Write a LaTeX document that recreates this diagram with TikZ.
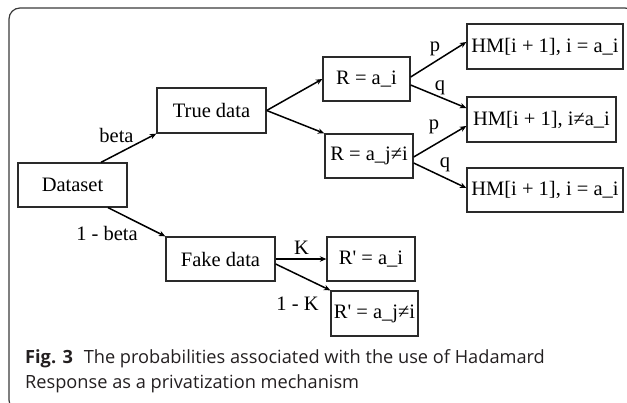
\documentclass[tikz,border=0pt]{standalone}
\usepackage{fontspec}
\setmainfont{Liberation Serif}[Ligatures=TeXOff]
\newfontfamily\capfont{Open Sans}
\usetikzlibrary{arrows.meta}
\definecolor{framegray}{HTML}{3A3A3A}
\definecolor{captext}{HTML}{231F20}
\definecolor{boxline}{HTML}{2A2A2A}
\tikzset{
  stagebox/.style={draw=boxline, line width=1.3pt, inner sep=0pt, align=center,
    font=\fontsize{20.5}{24}\selectfont},
  edgelabel/.style={inner sep=0pt, font=\fontsize{20.5}{24}\selectfont},
  flow/.style={-{Stealth[length=6.5pt,width=5.5pt]}, line width=1.5pt},
  captionline/.style={anchor=base west, inner sep=0pt, text=captext,
    font=\capfont\fontsize{18.2}{25}\selectfont}
}
\begin{document}
\begin{tikzpicture}[x=1pt,y=-1pt]
\useasboundingbox (0,0) rectangle (627,402);
\clip (0,0) rectangle (627,402);
% rounded outer frame
\draw[framegray, line width=1.2pt, rounded corners=11pt] (9,8) rectangle (636,411);

% boxes
\node[stagebox, minimum width=109pt, minimum height=44pt] (ds)  at (72.5,185)   {Dataset};
\node[stagebox, minimum width=109pt, minimum height=45pt] (td)  at (211.5,110.5) {True data};
\node[stagebox, minimum width=109pt, minimum height=44pt] (fk)  at (220.5,259)  {Fake data};
\node[stagebox, minimum width=87pt,  minimum height=44pt] (ra)  at (366.5,79)   {R = a\_i};
\node[stagebox, minimum width=88pt,  minimum height=44pt] (rb)  at (369,156)    {R = a\_j≠i};
\node[stagebox, minimum width=156pt, minimum height=45pt] (hm1) at (545,46.5)   {HM[i + 1], i = a\_i};
\node[stagebox, minimum width=149pt, minimum height=45pt] (hm2) at (541.5,119.5) {HM[i + 1], i≠a\_i};
\node[stagebox, minimum width=156pt, minimum height=44pt] (hm3) at (545,190)    {HM[i + 1], i = a\_i};
\node[stagebox, minimum width=88pt,  minimum height=44pt] (rp1) at (371,259)    {R' = a\_i};
\node[stagebox, minimum width=87pt,  minimum height=45pt] (rp2) at (374.5,313.5) {R' = a\_j≠i};

% connectors
\draw[flow] ([xshift=28.5pt]ds.north) -- (td.south west);
\draw[flow] ([xshift=35.5pt]ds.south) -- (fk.north west);
\draw[flow] (td.east) -- (ra.west);
\draw[flow] (td.east) -- (rb.north west);
\draw[flow] ([yshift=2pt]ra.east) -- ([yshift=4.5pt]hm1.west);
\draw[flow] ([yshift=-6pt]ra.east) -- ([yshift=11.5pt]hm2.west);
\draw[flow] ([yshift=-1pt]rb.east) -- ([yshift=-6.5pt]hm2.west);
\draw[flow] ([yshift=-7pt]rb.east) -- ([yshift=2pt]hm3.west);
\draw[flow] (fk.east) -- (rp1.west);
\draw[flow] ([yshift=-5pt]fk.east) -- (rp2.north west);

% probabilities on the branches
\node[edgelabel] (lbeta)  at (116.5,135) {beta};
\node[edgelabel] (lnbeta) at (107,233.5) {1 - beta};
\node[edgelabel] (lp1)    at (435,48.5)  {p};
\node[edgelabel] (lq1)    at (440,87.5)  {q};
\node[edgelabel] (lp2)    at (434,126.5) {p};
\node[edgelabel] (lq2)    at (445,164.5) {q};
\node[edgelabel] (lk)     at (301.5,247.5) {K};
\node[edgelabel] (lnk)    at (297.5,304) {1 - K};

% caption
\node[captionline] (cap1) at (25,363) {\textbf{Fig. 3}\hspace{0.6em}The probabilities associated with the use of Hadamard};
\node[captionline] (cap2) at (25,388) {Response as a privatization mechanism};
\end{tikzpicture}
\end{document}
